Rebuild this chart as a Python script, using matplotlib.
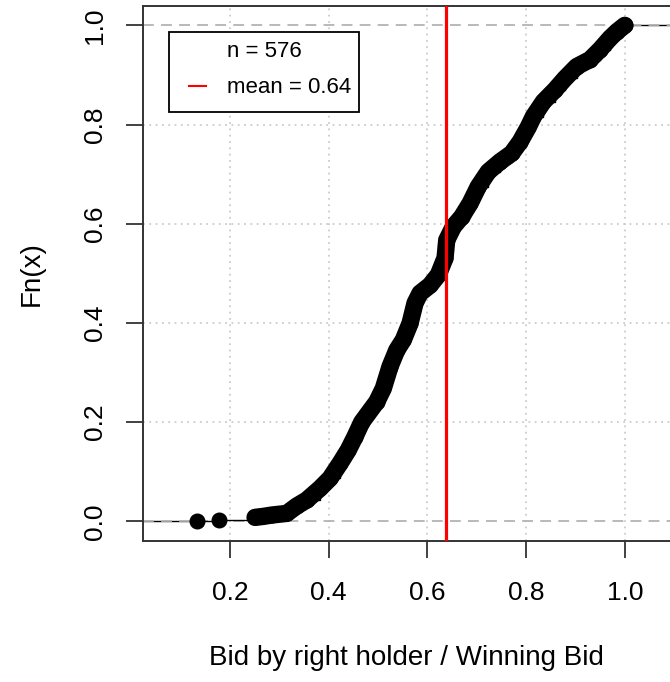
import numpy as np
import matplotlib
matplotlib.use("Agg")
import matplotlib.pyplot as plt
from matplotlib.patches import Rectangle

plt.rcParams['font.family'] = ['Liberation Sans', 'DejaVu Sans']

bid_ratio = [0.1325, 0.178, 0.2507, 0.2675, 0.2845, 0.3149, 0.3352, 0.3554,
             0.3824, 0.4026, 0.4229, 0.4397, 0.4533, 0.4669, 0.4802, 0.4973,
             0.5106, 0.5242, 0.5378, 0.5512, 0.5647, 0.5749, 0.5850, 0.6053,
             0.6221, 0.6357, 0.6391, 0.6525, 0.6695, 0.6863, 0.7031, 0.7234,
             0.7471, 0.7708, 0.7876, 0.8045, 0.8146, 0.8349, 0.8586, 0.8788,
             0.9025, 0.9295, 0.9497, 0.9700, 0.9836, 1.0]
ecdf_value = [0.0017, 0.0035, 0.008, 0.010, 0.0127, 0.016, 0.031, 0.043,
              0.0665, 0.0867, 0.117, 0.144, 0.171, 0.200, 0.218, 0.241,
              0.268, 0.312, 0.345, 0.366, 0.399, 0.440, 0.460, 0.476,
              0.497, 0.531, 0.567, 0.594, 0.614, 0.641, 0.675, 0.705,
              0.725, 0.742, 0.765, 0.795, 0.816, 0.846, 0.870, 0.893,
              0.917, 0.931, 0.951, 0.974, 0.987, 1.0]
n_obs = 576
mean_bid = 0.638

x_ticks = [0.2, 0.4, 0.6, 0.8, 1.0]
y_ticks = [0.0, 0.2, 0.4, 0.6, 0.8, 1.0]

fig = plt.figure(figsize=(6.7, 6.82), dpi=100)
ax = fig.add_axes([0.213, 0.2072, 0.787, 0.7840])
ax.set_xlim(0.023, 1.0916)
ax.set_ylim(-0.039, 1.039)

ax.set_xticks(x_ticks)
ax.set_yticks(y_ticks)
ax.set_xticklabels([f"{v:.1f}" for v in x_ticks])
ax.set_yticklabels([f"{v:.1f}" for v in y_ticks], rotation=90, va='center')
ax.tick_params(direction='out', length=12, width=1.3, color='#333333',
               labelsize=19, pad=17)
ax.tick_params(axis='y', pad=14)

for side in ['left', 'bottom', 'top']:
    ax.spines[side].set_color('#333333')
    ax.spines[side].set_linewidth(1.4)
ax.spines['right'].set_visible(False)

# dotted grid
for v in x_ticks:
    ax.axvline(v, color='#cccccc', lw=1.3, linestyle=(0, (1, 2.5)), zorder=0)
for v in y_ticks[1:-1]:
    ax.axhline(v, color='#cccccc', lw=1.3, linestyle=(0, (1, 2.5)), zorder=0)

# horizontal extensions of the step function
ax.plot([0.023, bid_ratio[0]], [0, 0], color='black', lw=1, zorder=1)
ax.plot([bid_ratio[-1], 1.0916], [1, 1], color='black', lw=1, zorder=1)
ax.axhline(0, color='#b3b3b3', lw=1.3, linestyle=(0, (6, 4)), zorder=1.5)
ax.axhline(1, color='#b3b3b3', lw=1.3, linestyle=(0, (6, 4)), zorder=1.5)

# ecdf: step line, thick band and points
ax.step(bid_ratio, ecdf_value, where='post', color='black', lw=1, zorder=2)
ax.plot(bid_ratio[2:], ecdf_value[2:], color='black', lw=12.5,
        solid_capstyle='round', solid_joinstyle='round', zorder=3)
ax.plot(bid_ratio, ecdf_value, 'o', color='black', markersize=10.5, zorder=3)

ax.axvline(mean_bid, color='red', lw=2.3, zorder=4)

# legend box
ax.add_patch(Rectangle((0.0504, 0.8012), 0.3596, 0.1496, transform=ax.transAxes,
                       facecolor='white', edgecolor='black', lw=1.3, zorder=5))
ax.text(0.160, 0.914, f"n = {n_obs}", transform=ax.transAxes, fontsize=16,
        va='center', ha='left', zorder=6)
ax.text(0.160, 0.8485, f"mean = {mean_bid:.2f}", transform=ax.transAxes,
        fontsize=16, va='center', ha='left', zorder=6)
ax.plot([0.0878, 0.1200], [0.8504, 0.8504], transform=ax.transAxes,
        color='red', lw=1.5, zorder=6)

ax.set_xlabel('Bid by right holder / Winning Bid', fontsize=20, labelpad=29)
ax.set_ylabel('Fn(x)', fontsize=20, labelpad=27)

fig.savefig('out.png', dpi=100)
